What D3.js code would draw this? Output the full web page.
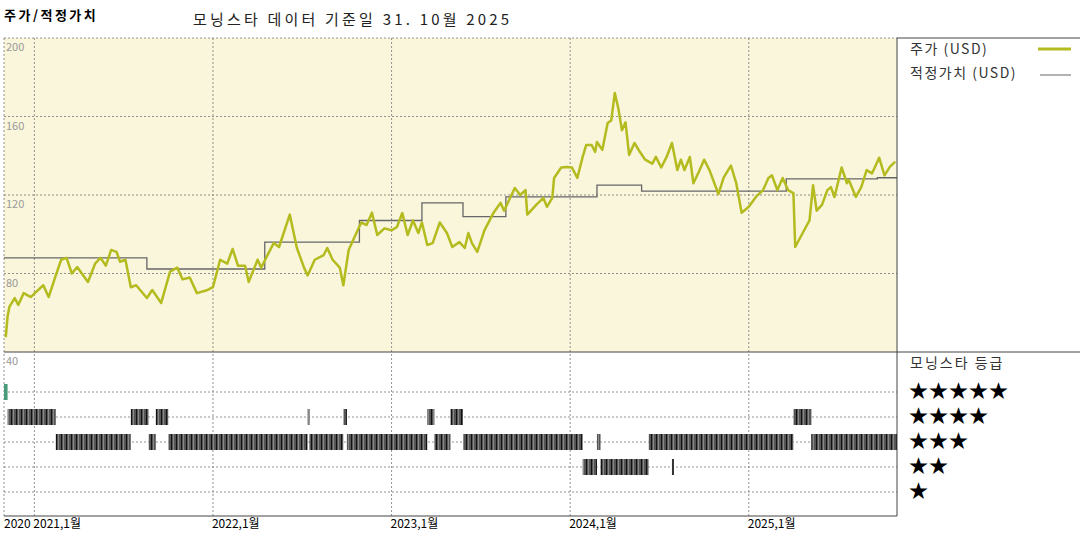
<!DOCTYPE html>
<html>
<head>
<meta charset="utf-8">
<script src="https://cdn.jsdelivr.net/npm/d3@7"></script>
<style>
  body { margin: 0; background: #fff; }
  text { font-family: "Noto Sans CJK KR", "DejaVu Sans", sans-serif; }
</style>
</head>
<body>
<svg id="chart" width="1080" height="540"></svg>
<script>
// price (USD), time in decimal years
const priceYears = [2020.84,2020.85,2020.86,2020.89,2020.91,2020.94,2020.98,2021.01,2021.05,2021.08,2021.12,2021.15,2021.18,2021.21,2021.24,2021.30,2021.34,2021.37,2021.40,2021.43,2021.46,2021.48,2021.51,2021.54,2021.57,2021.63,2021.66,2021.71,2021.76,2021.80,2021.83,2021.87,2021.91,2021.97,2022.00,2022.04,2022.08,2022.11,2022.14,2022.18,2022.20,2022.25,2022.27,2022.30,2022.34,2022.37,2022.43,2022.47,2022.51,2022.53,2022.57,2022.62,2022.64,2022.67,2022.71,2022.73,2022.76,2022.78,2022.83,2022.86,2022.89,2022.92,2022.96,2023.00,2023.03,2023.06,2023.09,2023.12,2023.15,2023.17,2023.20,2023.23,2023.27,2023.31,2023.34,2023.38,2023.41,2023.43,2023.45,2023.48,2023.52,2023.57,2023.61,2023.63,2023.69,2023.72,2023.75,2023.76,2023.81,2023.85,2023.87,2023.90,2023.91,2023.95,2023.98,2024.01,2024.04,2024.07,2024.09,2024.12,2024.14,2024.15,2024.18,2024.21,2024.23,2024.25,2024.27,2024.29,2024.31,2024.33,2024.36,2024.39,2024.42,2024.46,2024.48,2024.51,2024.54,2024.57,2024.60,2024.62,2024.64,2024.67,2024.69,2024.72,2024.75,2024.78,2024.83,2024.86,2024.90,2024.93,2024.96,2025.00,2025.04,2025.08,2025.11,2025.13,2025.16,2025.19,2025.22,2025.25,2025.26,2025.29,2025.32,2025.34,2025.36,2025.38,2025.41,2025.44,2025.46,2025.48,2025.52,2025.55,2025.56,2025.60,2025.63,2025.66,2025.69,2025.73,2025.76,2025.79,2025.82];
const priceValues = [47.6,58,63,67.5,64,70,68,70.6,74,68,79,87,88,80,83.3,75.7,85,88,84,92,91,86,87,73,74,67.5,71.6,65,81,83,77,78,70,71.6,73,87,85,92.5,84,84,75.7,87,83,88.4,95.5,93.5,110,93,83,79,87,89.4,93,87,83,74,92,96,106,104.7,111,99.6,103,102,103.7,110.8,99.6,107,100.6,106,94.5,95.5,106,100.6,93.5,96,93,100.6,95.5,91,102,110.8,116,112,123.6,120,122.5,110,115,118.5,114,118.5,128.7,134,134.3,134,128.7,139.4,145.5,145.5,142,147,143,156.7,158,172,164,153,157,140.4,146.5,142,138,136,139.4,134,139.4,146.5,132.7,138,132.7,139.4,126,131.7,138,132.7,120.5,129,135,126,111,114,119,122.5,128.7,130,122.5,128.7,122.5,121,93.5,98.6,103.7,107,125,112,115,122.5,124,119,134,126,127.6,119,124,132.7,131,139,130,134.3,137];

// fair value steps (start year, value)
const fairStarts = [2020.83,2021.63,2022.29,2022.82,2023.17,2023.40,2023.64,2024.15,2024.40,2025.21,2025.72];
const fairValues = [88,82.3,96,107,116,109,119,125,122,128.2,128.8];
const endYear = 2025.83;

// star rating periods
const ratingStars = [5,4,3,4,3,4,3,4,3,4,3,4,3,4,3,2,3,2,3,4,3];
const ratingFrom = [2020.83,2020.85,2021.12,2021.54,2021.64,2021.68,2021.75,2022.53,2022.54,2022.73,2022.75,2023.20,2023.24,2023.33,2023.40,2024.07,2024.15,2024.17,2024.44,2025.25,2025.35];
const ratingTo = [2020.85,2021.12,2021.54,2021.64,2021.68,2021.75,2022.53,2022.54,2022.73,2022.75,2023.20,2023.24,2023.33,2023.40,2024.07,2024.15,2024.17,2024.44,2025.25,2025.35,2025.83];
// short 2-star blip
const blipFrom = [2024.57];

const yearTicks = [2021, 2022, 2023, 2024, 2025];
const priceTicks = [200, 160, 120, 80, 40];
const starLabels = ['★★★★★', '★★★★', '★★★', '★★', '★'];

const svg = d3.select('#chart');
const L = 4, R = 897, T = 38, M = 352, B = 516;

const x = d3.scaleLinear().domain([2020.83, endYear]).range([L, R]);
const y = d3.scaleLinear().domain([40, 200]).range([M, T]);
const yr = d3.scaleLinear().domain([5, 1]).range([392, 492]);

// titles
svg.append('text').attr('x', 4).attr('y', 20).attr('font-size', 13).attr('font-weight', 'bold')
    .attr('letter-spacing', 2.5).text('주가/적정가치');
svg.append('text').attr('x', 193).attr('y', 25).attr('font-size', 15).attr('fill', '#222')
    .attr('letter-spacing', 3.2).text('모닝스타 데이터 기준일 31. 10월 2025');

// top panel background
svg.append('rect').attr('x', L).attr('y', T).attr('width', R - L).attr('height', M - T).attr('fill', '#faf6dc');

const grid = svg.append('g').attr('stroke', '#777').attr('stroke-dasharray', '2,2').attr('stroke-width', 0.8);
priceTicks.slice(1, 4).forEach(v => grid.append('line').attr('x1', L).attr('x2', R).attr('y1', y(v)).attr('y2', y(v)));
[1, 2, 3, 4, 5].forEach(s => grid.append('line').attr('x1', L).attr('x2', R).attr('y1', yr(s)).attr('y2', yr(s)));
yearTicks.forEach(t => grid.append('line').attr('x1', x(t)).attr('x2', x(t)).attr('y1', T).attr('y2', B));
grid.append('line').attr('x1', L).attr('x2', L).attr('y1', T).attr('y2', B);
grid.append('line').attr('x1', L).attr('x2', R).attr('y1', T).attr('y2', T);

// price tick labels
priceTicks.forEach(v => svg.append('text').attr('x', 6).attr('y', y(v) + 13)
    .attr('font-size', 11).attr('fill', '#999').text(v));

// rating bars with a striped pattern
const pat = svg.append('defs').append('pattern').attr('id', 'stripes')
    .attr('patternUnits', 'userSpaceOnUse').attr('width', 5).attr('height', 10);
pat.append('rect').attr('width', 5).attr('height', 10).attr('fill', '#555');
pat.append('rect').attr('x', 1).attr('width', 1).attr('height', 10).attr('fill', '#111');
pat.append('rect').attr('x', 3).attr('width', 1).attr('height', 10).attr('fill', '#888');

ratingStars.forEach((s, i) => {
    svg.append('rect')
        .attr('x', x(ratingFrom[i])).attr('y', yr(s) - 8)
        .attr('width', Math.max(2, x(ratingTo[i]) - x(ratingFrom[i])))
        .attr('height', 16)
        .attr('fill', s === 5 ? '#4a9a7a' : 'url(#stripes)');
});
blipFrom.forEach(f => svg.append('rect').attr('x', x(f)).attr('y', yr(2) - 8)
    .attr('width', 2).attr('height', 16).attr('fill', '#333'));

// fair value step line
const fairPts = [];
fairStarts.forEach((s, i) => {
    const e = i < fairStarts.length - 1 ? fairStarts[i + 1] : endYear;
    fairPts.push([s, fairValues[i]], [e, fairValues[i]]);
});
svg.append('path').datum(fairPts)
    .attr('d', d3.line().x(d => x(d[0])).y(d => y(d[1])))
    .attr('fill', 'none').attr('stroke', '#666').attr('stroke-width', 1.3);

// price line
svg.append('path').datum(priceYears.map((t, i) => [t, priceValues[i]]))
    .attr('d', d3.line().x(d => x(d[0])).y(d => y(d[1])))
    .attr('fill', 'none').attr('stroke', '#b3bb1e').attr('stroke-width', 2.5).attr('stroke-linejoin', 'round');

// panel borders
const border = svg.append('g').attr('stroke', '#444').attr('stroke-width', 1);
border.append('line').attr('x1', R).attr('x2', R).attr('y1', T).attr('y2', B);
border.append('line').attr('x1', R).attr('x2', 1080).attr('y1', T).attr('y2', T);
border.append('line').attr('x1', L).attr('x2', 1080).attr('y1', M).attr('y2', M);
border.append('line').attr('x1', L).attr('x2', R).attr('y1', B).attr('y2', B);

// x labels
svg.append('text').attr('x', 4).attr('y', 528).attr('font-size', 12).text('2020');
yearTicks.forEach(t => svg.append('text').attr('x', x(t) - 1).attr('y', 528)
    .attr('font-size', 12).text(t + ',1월'));

// legend
svg.append('text').attr('x', 910).attr('y', 54).attr('font-size', 14).attr('fill', '#333')
    .attr('letter-spacing', 1.5).text('주가 (USD)');
svg.append('line').attr('x1', 1038).attr('x2', 1071).attr('y1', 49).attr('y2', 49).attr('stroke', '#b3bb1e').attr('stroke-width', 3);
svg.append('text').attr('x', 910).attr('y', 78).attr('font-size', 14).attr('fill', '#333')
    .attr('letter-spacing', 1.5).text('적정가치 (USD)');
svg.append('line').attr('x1', 1040).attr('x2', 1071).attr('y1', 75).attr('y2', 75).attr('stroke', '#666').attr('stroke-width', 1);

svg.append('text').attr('x', 910).attr('y', 368).attr('font-size', 14).attr('fill', '#333')
    .attr('letter-spacing', 2).text('모닝스타 등급');
starLabels.forEach((s, i) => svg.append('text').attr('x', 909).attr('y', yr(5 - i) + 6)
    .attr('font-family', 'DejaVu Sans').attr('font-size', 19).attr('letter-spacing', 1).text(s));
</script>
</body>
</html>
